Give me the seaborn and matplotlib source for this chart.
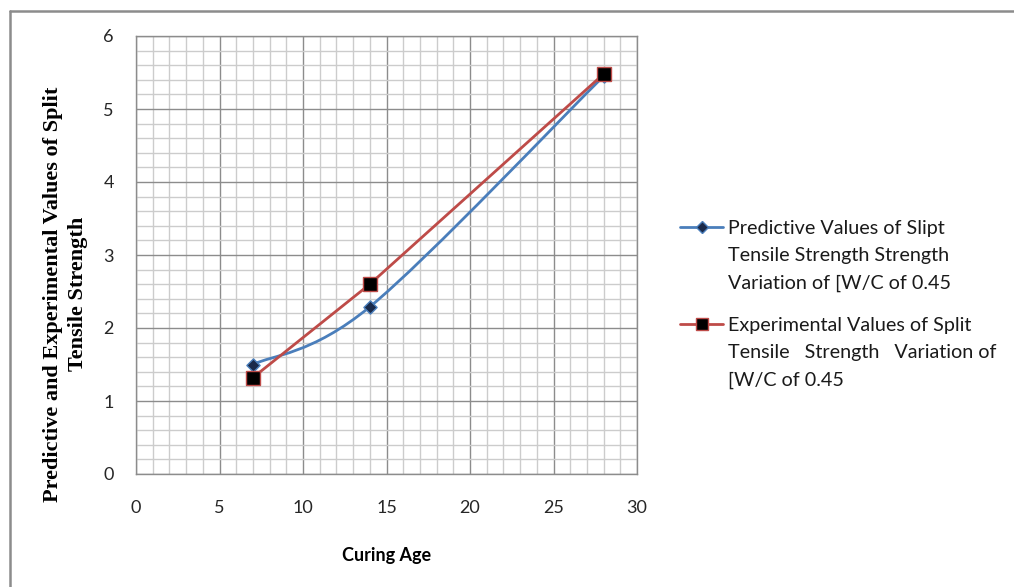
import numpy as np
import pandas as pd
import matplotlib
matplotlib.use("Agg")
import matplotlib.pyplot as plt
import seaborn as sns
from matplotlib.path import Path
from matplotlib.patches import PathPatch
from matplotlib.lines import Line2D
from matplotlib.ticker import MultipleLocator

# ---- data ----
curing_age = [7, 14, 28]
predictive = [1.50, 2.29, 5.45]
experimental = [1.32, 2.60, 5.48]

pred_label = "Predictive Values of Slipt\nTensile Strength Strength\nVariation of [W/C of 0.45"
exp_label = "Experimental Values of Split\nTensile   Strength   Variation of\n[W/C of 0.45"
x_label = "Curing Age"
y_label = "Predictive and Experimental Values of Split\nTensile Strength"
x_ticks = [0, 5, 10, 15, 20, 25, 30]
y_ticks = [0, 1, 2, 3, 4, 5, 6]

BLUE = "#4A7EBB"
RED = "#BE4B48"
MAJ = "#8c8c8c"
MIN = "#cccccc"

sns.set_theme(style="white")
plt.rcParams["font.family"] = ["Lato", "DejaVu Sans"]

W, H = 1014, 587
fig = plt.figure(figsize=(W / 100, H / 100), dpi=100)
ax = fig.add_axes([136 / W, (H - 474) / H, (637 - 136) / W, (474 - 36) / H])

df_exp = pd.DataFrame({"age": curing_age, "val": experimental})
df_pred = pd.DataFrame({"age": curing_age, "val": predictive})

# smoothed predictive curve (Excel-style Catmull-Rom Bezier)
pts = np.column_stack([curing_age, predictive]).astype(float)
ext = np.vstack([pts[0], pts, pts[-1]])
verts = [tuple(pts[0])]
codes = [Path.MOVETO]
for i in range(len(pts) - 1):
    p0, p1, p2, p3 = ext[i], ext[i + 1], ext[i + 2], ext[i + 3]
    c1 = p1 + (p2 - p0) / 6.0
    c2 = p2 - (p3 - p1) / 6.0
    verts += [tuple(c1), tuple(c2), tuple(p2)]
    codes += [Path.CURVE4] * 3
ax.add_patch(PathPatch(Path(verts, codes), facecolor="none", edgecolor=BLUE,
                       lw=2.0, zorder=3))
sns.scatterplot(data=df_pred, x="age", y="val", marker="D", s=45,
                color="#1a2a4a", edgecolor=BLUE, linewidth=1.0, ax=ax,
                zorder=4, legend=False)

sns.lineplot(data=df_exp, x="age", y="val", color=RED, lw=2.0, marker="s",
             markersize=10, markerfacecolor="black", markeredgecolor=RED,
             markeredgewidth=1.0, ax=ax, zorder=5, legend=False)

ax.set_xlim(0, 30)
ax.set_ylim(0, 6)
ax.set_xticks(x_ticks)
ax.set_yticks(y_ticks)
ax.xaxis.set_minor_locator(MultipleLocator(1))
ax.yaxis.set_minor_locator(MultipleLocator(0.2))
ax.grid(which="minor", color=MIN, lw=1.0, zorder=0)
ax.grid(which="major", color=MAJ, lw=1.0, zorder=1)
ax.set_axisbelow(True)
for s in ax.spines.values():
    s.set_color(MAJ)
    s.set_linewidth(1.0)
ax.tick_params(which="major", direction="out", length=6, width=1, color=MAJ,
               labelsize=13, labelcolor="#262626")
ax.tick_params(which="minor", length=0)
ax.tick_params(axis="y", pad=10)
ax.tick_params(axis="x", pad=13)
ax.set_xlabel(x_label, fontsize=13, fontweight="bold", color="black", labelpad=22)
ax.set_ylabel(y_label, fontsize=16, fontweight="bold", color="black",
              family=["Liberation Serif", "DejaVu Serif"], linespacing=1.35)
ax.yaxis.set_label_coords((88 - 136) / 501, (474 - 294) / 438)

handles = [
    Line2D([], [], color=BLUE, lw=2.0, marker="D", markersize=6.5,
           markerfacecolor="#1a2a4a", markeredgecolor=BLUE),
    Line2D([], [], color=RED, lw=2.0, marker="s", markersize=9,
           markerfacecolor="black", markeredgecolor=RED),
]
leg = fig.legend(handles, [pred_label, exp_label], loc="upper left",
                 bbox_to_anchor=(680 / W, 1 - 220 / H), frameon=False,
                 fontsize=14.2, handlelength=2.2, handletextpad=0.25,
                 labelspacing=1.25, borderaxespad=0, borderpad=0)
for t in leg.get_texts():
    t.set_linespacing(1.74)
    t.set_color("#1a1a1a")
try:
    for col in leg._legend_handle_box.get_children():
        for hp in col.get_children():
            hp.align = "top"
except Exception:
    pass

# outer chart border (top and left visible)
fig.add_artist(Line2D([10 / W, 1], [1 - 11 / H, 1 - 11 / H],
                      transform=fig.transFigure, color="#8c8c8c", lw=1.8))
fig.add_artist(Line2D([10 / W, 10 / W], [0, 1 - 11 / H],
                      transform=fig.transFigure, color="#8c8c8c", lw=1.8))

fig.savefig("out.png", dpi=100)
